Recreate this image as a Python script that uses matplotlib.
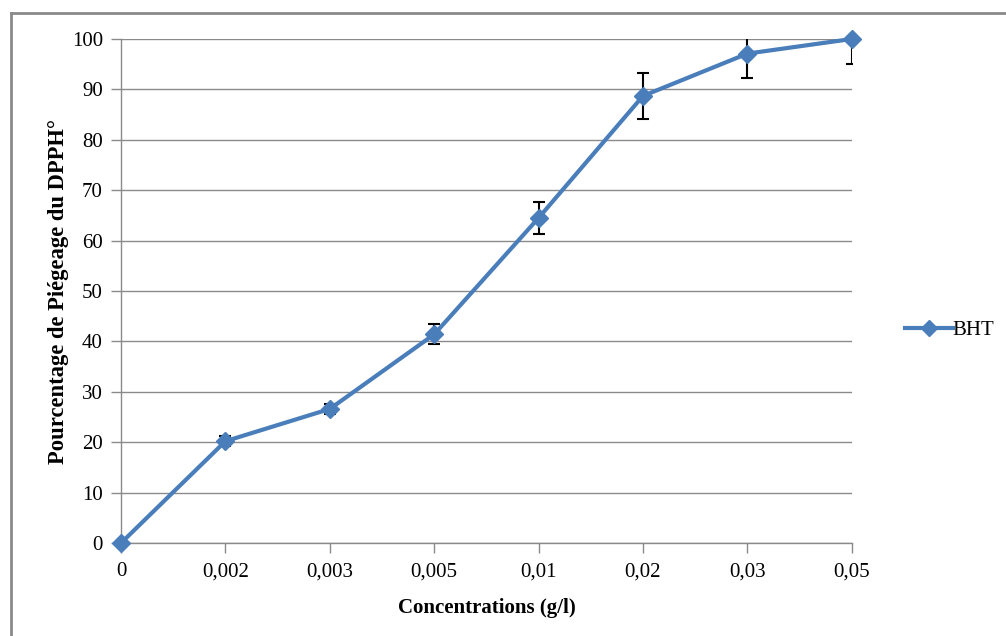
import matplotlib
matplotlib.use("Agg")
import matplotlib.pyplot as plt
from matplotlib.lines import Line2D
import numpy as np

# donnees
concentrations = ["0", "0,002", "0,003", "0,005", "0,01", "0,02", "0,03", "0,05"]
piegeage_bht = [0, 20.2, 26.6, 41.4, 64.5, 88.7, 97.1, 100]
erreur_bht = [0, 1.0, 1.0, 2.0, 3.1, 4.5, 4.8, 5.0]
y_ticks = [0, 10, 20, 30, 40, 50, 60, 70, 80, 90, 100]

plt.rcParams['font.family'] = ['Liberation Serif', 'DejaVu Serif']

bleu = '#4A7EBB'
gris = '#8A8A8A'
taille = 15

fig = plt.figure(figsize=(10.06, 6.36), dpi=100)
ax = fig.add_axes([0.1203, 0.1462, 0.8467 - 0.1203, 0.9387 - 0.1462])

x = np.arange(len(concentrations))
ax.errorbar(x, piegeage_bht, yerr=erreur_bht, fmt='none', ecolor='black',
            elinewidth=1.5, capsize=4, capthick=1.5, zorder=2)
ax.plot(x, piegeage_bht, color=bleu, lw=3, marker='D', markersize=9,
        markeredgecolor=bleu, zorder=3, clip_on=False, label='BHT')

ax.set_xlim(0, len(concentrations) - 1)
ax.set_ylim(0, 100)
ax.set_yticks(y_ticks)
ax.set_xticks(x)
ax.set_xticklabels(concentrations)

ax.grid(axis='y', color=gris, lw=1)
ax.set_axisbelow(True)
for cote in ['top', 'right']:
    ax.spines[cote].set_visible(False)
for cote in ['left', 'bottom']:
    ax.spines[cote].set_color(gris)
    ax.spines[cote].set_linewidth(1)
ax.tick_params(axis='both', colors=gris, length=7, width=1, labelsize=taille,
               labelcolor='black')
ax.tick_params(axis='y', pad=6)
ax.tick_params(axis='x', pad=7)

ax.set_xlabel('Concentrations (g/l)', fontsize=taille, fontweight='bold', labelpad=12)
ax.set_ylabel('Pourcentage de Piégeage du DPPH°', fontsize=16.3,
              fontweight='bold', labelpad=2)

# legende a droite
poignee = Line2D([], [], color=bleu, lw=3, marker='D', markersize=8)
fig.legend(handles=[poignee], labels=['BHT'], loc='center left',
           bbox_to_anchor=(0.891, 0.481), frameon=False, fontsize=taille,
           handlelength=2.3, handletextpad=0.0, borderaxespad=0)

# cadre gris du graphique
fig.add_artist(Line2D([11 / 1006, 1], [1 - 13 / 636, 1 - 13 / 636],
                      transform=fig.transFigure, color=gris, lw=2))
fig.add_artist(Line2D([11 / 1006, 11 / 1006], [0, 1 - 13 / 636],
                      transform=fig.transFigure, color=gris, lw=2))

fig.savefig('out.png', dpi=100)
